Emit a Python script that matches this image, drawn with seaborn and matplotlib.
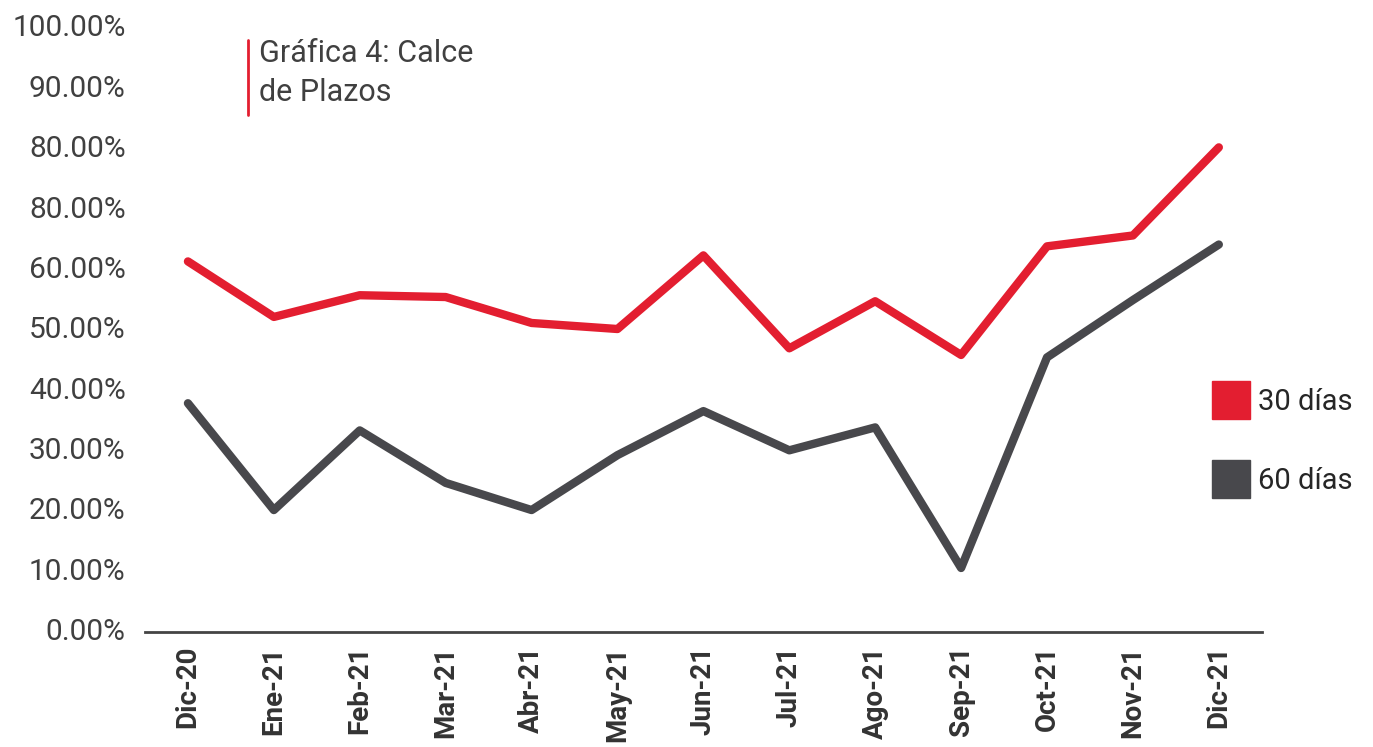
import pandas as pd
import matplotlib.pyplot as plt
import seaborn as sns
from matplotlib.lines import Line2D

# datos
meses = ['Dic-20', 'Ene-21', 'Feb-21', 'Mar-21', 'Abr-21', 'May-21', 'Jun-21',
         'Jul-21', 'Ago-21', 'Sep-21', 'Oct-21', 'Nov-21', 'Dic-21']
dias_30 = [60.9, 51.7, 55.3, 55.0, 50.7, 49.7, 61.9, 46.5, 54.3, 45.4, 63.4, 65.2, 79.8]
dias_60 = [37.4, 19.7, 32.9, 24.2, 19.7, 28.8, 36.1, 29.6, 33.4, 10.1, 45.0, 54.5, 63.7]
series = ['30 días', '60 días']
y_ticks = [0, 10, 20, 30, 40, 50, 60, 70, 80, 90, 100]
y_labels = ['0.00%', '10.00%', '20.00%', '30.00%', '40.00%', '50.00%',
            '60.00%', '80.00%', '80.00%', '90.00%', '100.00%']

rojo = '#E31E30'
gris = '#48484C'
texto = '#404040'

df = pd.DataFrame({
    'mes': meses * 2,
    'pos': list(range(len(meses))) * 2,
    'valor': dias_30 + dias_60,
    'serie': [series[0]] * len(meses) + [series[1]] * len(meses),
})

sns.set_style('white')
plt.rcParams['font.family'] = ['Roboto', 'DejaVu Sans']

fig = plt.figure(figsize=(13.73, 7.47), dpi=100)
ax = fig.add_axes([0.1056, 0.154, 0.8134, 0.82])

sns.lineplot(data=df, x='pos', y='valor', hue='serie', palette=[rojo, gris],
             linewidth=6, ax=ax, legend=False)

ax.set_xlim(-0.5, 12.5)
ax.set_ylim(-0.5, 101)
ax.set_xticks(range(len(meses)))
ax.set_xticklabels(meses, rotation=90, fontsize=20, fontweight='bold', color='#333333')
ax.set_yticks(y_ticks)
ax.set_yticklabels(y_labels, fontsize=21.5, color=texto)
ax.tick_params(axis='y', length=0, pad=14)
ax.tick_params(axis='x', length=0, pad=10)
ax.set_xlabel('')
ax.set_ylabel('')

for lado in ['top', 'right', 'left']:
    ax.spines[lado].set_visible(False)
ax.spines['bottom'].set_color('#444444')
ax.spines['bottom'].set_linewidth(2)

# título con barra roja
fig.text(0.189, 0.948, 'Gráfica 4: Calce\nde Plazos', fontsize=22, color=texto,
         va='top', ha='left', linespacing=1.45)
fig.add_artist(Line2D([0.1805, 0.1805], [0.846, 0.946], color=rojo, linewidth=2))

# leyenda
handles = [Line2D([], [], marker='s', linestyle='', markersize=27,
                  markerfacecolor=c, markeredgecolor=c) for c in [rojo, gris]]
fig.legend(handles, series, loc='center left', bbox_to_anchor=(0.865, 0.409),
           frameon=False, fontsize=21, labelspacing=1.75, handletextpad=0.3,
           handlelength=1.2)

fig.savefig('out.png', dpi=100)
